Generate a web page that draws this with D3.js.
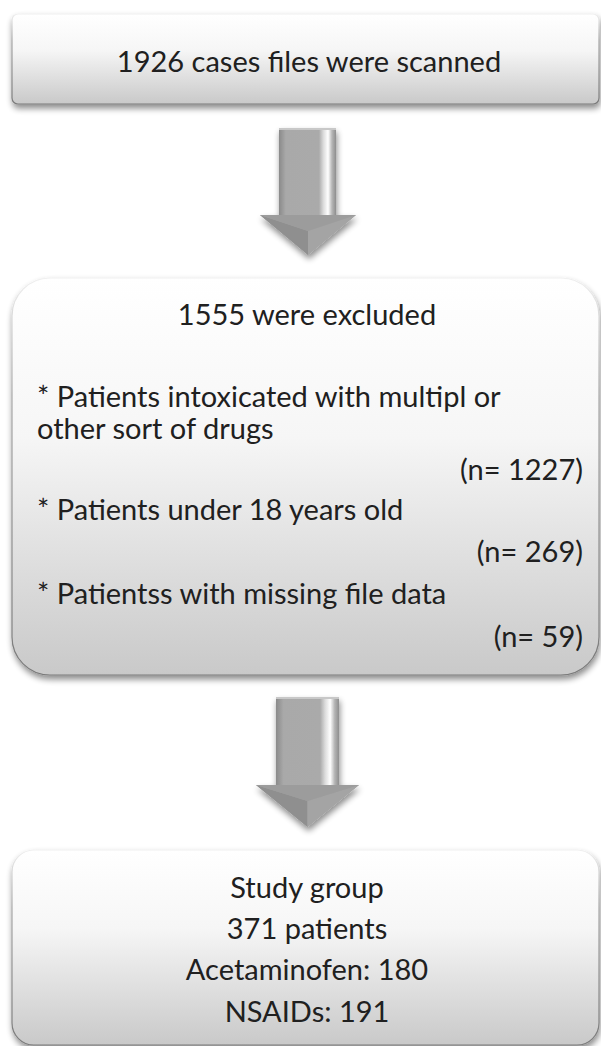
<!DOCTYPE html>
<html>
<head>
<meta charset="utf-8">
<script src="https://cdn.jsdelivr.net/npm/d3@7"></script>
<style>
  body { margin: 0; background: #fff; }
  text { font-family: Lato, "Open Sans", sans-serif; fill: #202020; }
</style>
</head>
<body>
<svg id="chart"></svg>
<script>
// flowchart content
const scannedText = "1926 cases files were scanned";
const excludedTitle = "1555 were excluded";
const exclusionReasons = [
  ["* Patients intoxicated with multipl or", "other sort of drugs"],
  ["* Patients under 18 years old"],
  ["* Patientss with missing file data"]
];
const exclusionCounts = [1227, 269, 59];
const studyLines = ["Study group", "371 patients", "Acetaminofen: 180", "NSAIDs: 191"];

const W = 601, H = 1046;
const svg = d3.select("#chart").attr("width", W).attr("height", H);
const defs = svg.append("defs");

// box fill gradient
const g1 = defs.append("linearGradient").attr("id", "boxFill").attr("x1", 0).attr("y1", 0).attr("x2", 0).attr("y2", 1);
g1.append("stop").attr("offset", "0%").attr("stop-color", "#ffffff");
g1.append("stop").attr("offset", "40%").attr("stop-color", "#f6f6f6");
g1.append("stop").attr("offset", "100%").attr("stop-color", "#c9c9c9");

const g2 = defs.append("linearGradient").attr("id", "boxEdge").attr("x1", 0).attr("y1", 0).attr("x2", 0).attr("y2", 1);
g2.append("stop").attr("offset", "0%").attr("stop-color", "#f0f0f0");
g2.append("stop").attr("offset", "30%").attr("stop-color", "#a8a8a8");
g2.append("stop").attr("offset", "100%").attr("stop-color", "#7a7a7a");

// shaft gradient (left dark, right highlight)
const g3 = defs.append("linearGradient").attr("id", "shaft").attr("x1", 0).attr("y1", 0).attr("x2", 1).attr("y2", 0);
[["0%", "#8a8a8a"], ["12%", "#a9a9a9"], ["70%", "#aaaaaa"], ["78%", "#dcdcdc"], ["86%", "#ffffff"], ["93%", "#b5b5b5"], ["100%", "#8e8e8e"]]
  .forEach(s => g3.append("stop").attr("offset", s[0]).attr("stop-color", s[1]));

const sh = defs.append("filter").attr("id", "shadow").attr("x", "-10%").attr("y", "-10%").attr("width", "120%").attr("height", "130%");
sh.append("feGaussianBlur").attr("in", "SourceAlpha").attr("stdDeviation", 3).attr("result", "b");
sh.append("feOffset").attr("in", "b").attr("dx", 1).attr("dy", 4).attr("result", "o");
sh.append("feComponentTransfer").attr("in", "o").attr("result", "s")
  .append("feFuncA").attr("type", "linear").attr("slope", 0.45);
const m = sh.append("feMerge");
m.append("feMergeNode").attr("in", "s");
m.append("feMergeNode").attr("in", "SourceGraphic");

// boxes
const boxes = [
  {x: 12, y: 14, w: 587, h: 90, r: 6},
  {x: 12, y: 278, w: 587, h: 397, r: 38},
  {x: 12, y: 850, w: 587, h: 195, r: 22}
];
svg.selectAll("rect.box").data(boxes).join("rect")
  .attr("class", "box")
  .attr("x", d => d.x).attr("y", d => d.y)
  .attr("width", d => d.w).attr("height", d => d.h)
  .attr("rx", d => d.r)
  .attr("fill", "url(#boxFill)")
  .attr("stroke", "url(#boxEdge)")
  .attr("stroke-width", 1.2)
  .attr("filter", "url(#shadow)");

// arrows
const arrows = [
  {sx0: 279, sx1: 336, top: 129, base: 215, hx0: 260, hx1: 356, tip: 255},
  {sx0: 276, sx1: 339, top: 698, base: 785, hx0: 256, hx1: 359, tip: 827}
];
arrows.forEach(a => {
  const cx = (a.hx0 + a.hx1) / 2;
  const g = svg.append("g").attr("filter", "url(#shadow)");
  g.append("path")
    .attr("d", `M${a.sx0},${a.top}H${a.sx1}V${a.base}H${a.hx1}L${cx},${a.tip}L${a.hx0},${a.base}H${a.sx0}Z`)
    .attr("fill", "#a2a2a2");
  g.append("rect")
    .attr("x", a.sx0).attr("y", a.top)
    .attr("width", a.sx1 - a.sx0).attr("height", a.base - a.top + 2)
    .attr("fill", "url(#shaft)");
  // head facets
  g.append("path")
    .attr("d", `M${a.hx0},${a.base}L${cx},${a.tip}L${cx},${a.base + 16}Z`)
    .attr("fill", "#8f8f8f");
  g.append("path")
    .attr("d", `M${a.hx1},${a.base}L${cx},${a.tip}L${cx},${a.base + 16}Z`)
    .attr("fill", "#a4a4a4");
  g.append("path")
    .attr("d", `M${a.hx0},${a.base}H${a.hx1}L${cx},${a.base + 16}Z`)
    .attr("fill", "#9c9c9c");
  g.append("path")
    .attr("d", `M${a.sx0},${a.top}H${a.sx1}`)
    .attr("stroke", "#c8c8c8").attr("stroke-width", 2);
});

const fs = 29;
const cxBox = 306;

// box 1
svg.append("text").attr("x", cxBox + 3).attr("y", 60)
  .attr("text-anchor", "middle").attr("dominant-baseline", "central")
  .attr("font-size", fs).text(scannedText);

// box 2
svg.append("text").attr("x", cxBox + 1).attr("y", 313)
  .attr("text-anchor", "middle").attr("dominant-baseline", "central")
  .attr("font-size", fs).text(excludedTitle);

const reasonY = [[395, 427], [508], [592]];
const countY = [468, 550, 635];
exclusionReasons.forEach((lines, i) => {
  svg.selectAll(null).data(lines).join("text")
    .attr("x", 37).attr("y", (d, j) => reasonY[i][j])
    .attr("dominant-baseline", "central")
    .attr("font-size", fs).text(d => d);
});
svg.selectAll("text.count").data(exclusionCounts).join("text")
  .attr("class", "count")
  .attr("x", 583).attr("y", (d, i) => countY[i])
  .attr("text-anchor", "end").attr("dominant-baseline", "central")
  .attr("font-size", fs).text(d => `(n= ${d})`);

// box 3
const studyY = [886, 927, 968, 1010];
svg.selectAll("text.study").data(studyLines).join("text")
  .attr("class", "study")
  .attr("x", cxBox + 1).attr("y", (d, i) => studyY[i])
  .attr("text-anchor", "middle").attr("dominant-baseline", "central")
  .attr("font-size", fs).text(d => d);
</script>
</body>
</html>
